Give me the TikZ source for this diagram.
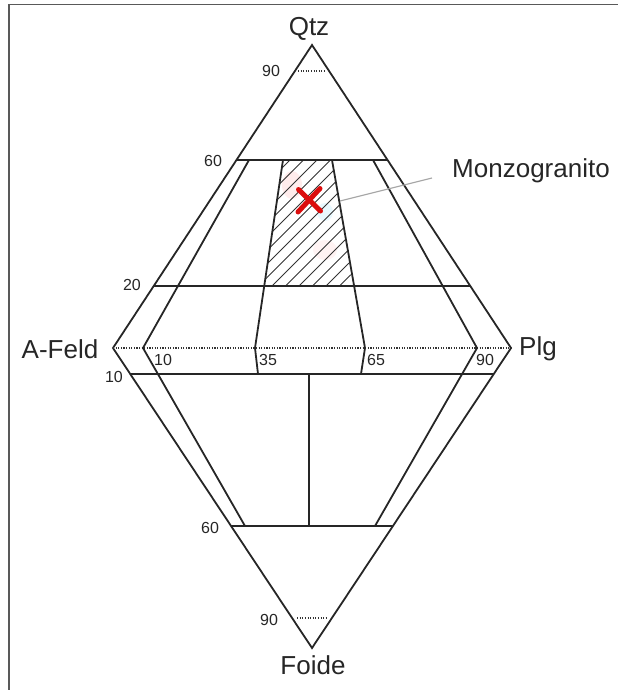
\documentclass[tikz,border=0pt]{standalone}
\usepackage{fontspec}
\setmainfont{Liberation Sans}
\usetikzlibrary{calc}
\begin{document}
\begin{tikzpicture}[x=1pt,y=-1pt,
  edge/.style={line width=1.8pt,black!85,line join=miter},
  dotline/.style={line width=1.6pt,dash pattern=on 1.1pt off 1.5pt,black!80},
  biglabel/.style={font=\fontsize{26}{30}\selectfont,text=black!85,inner sep=0,anchor=base},
  smalllabel/.style={font=\fontsize{16}{19}\selectfont,text=black!85,inner sep=0,anchor=base},
  hatchline/.style={line width=0.9pt,black!80},
  pointer/.style={line width=1.1pt,black!35},
  crossmark/.style={line width=5pt,red!85!black!95,line cap=round},
  frameline/.style={line width=1.3pt,black!65}]
\useasboundingbox (0,0) rectangle (618,690);
\draw[frameline] (9,690) -- (9,4.5) -- (618,4.5);

% main vertices
\coordinate (Q) at (312,45);
\coordinate (A) at (113,348);
\coordinate (P) at (511,348);
\coordinate (F) at (312,648);

% horizontal levels
\coordinate (q90l) at ($(Q)!0.0858!(A)$);
\coordinate (q90r) at ($(Q)!0.0858!(P)$);
\coordinate (q60l) at ($(Q)!0.3795!(A)$);
\coordinate (q60r) at ($(Q)!0.3795!(P)$);
\coordinate (q20l) at ($(Q)!0.7954!(A)$);
\coordinate (q20r) at ($(Q)!0.7954!(P)$);
\coordinate (f10l) at ($(F)!0.9133!(A)$);
\coordinate (f10r) at ($(F)!0.9133!(P)$);
\coordinate (f60l) at ($(F)!0.4067!(A)$);
\coordinate (f60r) at ($(F)!0.4067!(P)$);
\coordinate (f90l) at ($(F)!0.1!(A)$);
\coordinate (f90r) at ($(F)!0.1!(P)$);

% inner division points
\coordinate (i10) at (143,348);
\coordinate (i35) at (255,348);
\coordinate (i65) at (365,348);
\coordinate (i90) at (477,348);
\coordinate (u10) at (249,160);
\coordinate (u35) at (283,160);
\coordinate (u65) at (332,160);
\coordinate (u90) at (373,160);
\coordinate (d10) at (245,526);
\coordinate (d90) at (375,526);
\coordinate (d35) at (258,374);
\coordinate (d65) at (361,374);
\coordinate (m35) at (264,286);
\coordinate (m65) at (352.5,286);
\coordinate (vt) at (309,374);
\coordinate (vb) at (309,526);

% hatched field
\begin{scope}
\clip (u35) -- (u65) -- (m65) -- (m35) -- cycle;
\fill[red!12,opacity=0.6] (292,185) ellipse (10 and 14);
\fill[cyan!15,opacity=0.6] (325,212) ellipse (8 and 9);
\fill[red!8,opacity=0.6] (325,250) ellipse (12 and 10);
\foreach \c in {450,463.5,...,640} {
  \draw[hatchline] ({\c-300},300) -- ({\c-150},150);
}
\end{scope}

% outer diamond
\draw[edge] (A) -- (Q) -- (P) -- (F) -- cycle;

% dotted lines
\draw[dotline] (A) -- (P);
\draw[dotline] ($(q90l)+(3,0)$) -- ($(q90r)+(-3,0)$);
\draw[dotline] ($(f90l)+(5,0)$) -- ($(f90r)+(-5,0)$);

% horizontal lines
\draw[edge] (q60l) -- (q60r);
\draw[edge] (q20l) -- (q20r);
\draw[edge] (f10l) -- (f10r);
\draw[edge] (f60l) -- (f60r);

% inner lines
\draw[edge] (u10) -- (i10) -- (d10);
\draw[edge] (u90) -- (i90) -- (d90);
\draw[edge] (u35) -- (i35) -- (d35);
\draw[edge] (u65) -- (i65) -- (d65);
\draw[edge] (vt) -- (vb);

% red cross
\draw[crossmark] (298.5,189.5) -- (320.5,211);
\draw[crossmark] (320,188.5) -- (298,212);

% pointer and label
\node[biglabel] (lm) at (531,177) {Monzogranito};
\coordinate (ps) at (340,201);
\coordinate (pe) at (432,178);
\draw[pointer] (ps) -- (pe);

% apex labels
\node[biglabel] (lq) at (309,36) {Qtz};
\node[biglabel] (la) at (60,358) {A-Feld};
\node[biglabel] (lp) at (538,355) {Plg};
\node[biglabel] (lf) at (313,674) {Foide};

% scale numbers
\node[smalllabel] (n90t) at (271,77) {90};
\node[smalllabel] (n60t) at (213,166) {60};
\node[smalllabel] (n20) at (132,290) {20};
\node[smalllabel] (n10l) at (114,382) {10};
\node[smalllabel] (n10i) at (163,365) {10};
\node[smalllabel] (n35) at (268,365) {35};
\node[smalllabel] (n65) at (376,365) {65};
\node[smalllabel] (n90r) at (485,365) {90};
\node[smalllabel] (n60b) at (210,533) {60};
\node[smalllabel] (n90b) at (269,625) {90};
\end{tikzpicture}
\end{document}
